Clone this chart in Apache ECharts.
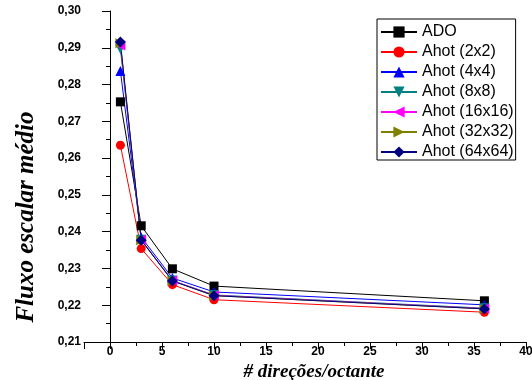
<!DOCTYPE html>
<html>
<head>
<meta charset="utf-8">
<script src="https://cdn.jsdelivr.net/npm/echarts@6/dist/echarts.min.js"></script>
<style>html,body{margin:0;padding:0;background:#fff}#c{width:532px;height:380px}</style>
</head>
<body>
<div id="c"></div>
<script>
var xValues = [1, 3, 6, 10, 36];
var seriesNames = ['ADO', 'Ahot (2x2)', 'Ahot (4x4)', 'Ahot (8x8)', 'Ahot (16x16)', 'Ahot (32x32)', 'Ahot (64x64)'];
var ado    = [0.2753, 0.2416, 0.2299, 0.2252, 0.2212];
var ahot2  = [0.2635, 0.2354, 0.2256, 0.2215, 0.2181];
var ahot4  = [0.2837, 0.2385, 0.2274, 0.2236, 0.2201];
var ahot8  = [0.2897, 0.2378, 0.2267, 0.2228, 0.2192];
var ahot16 = [0.2906, 0.2378, 0.2267, 0.2227, 0.2191];
var ahot32 = [0.2912, 0.2377, 0.2266, 0.2226, 0.2190];
var ahot64 = [0.2916, 0.2377, 0.2266, 0.2226, 0.2190];
var allValues = [ado, ahot2, ahot4, ahot8, ahot16, ahot32, ahot64];

var colors = ['#000000', '#ff0000', '#0000ff', '#008080', '#ff00ff', '#808000', '#000080'];
var symbols = ['rect', 'circle', 'triangle', 'triangle', 'triangle', 'triangle', 'diamond'];
var rotates = [0, 0, 0, 180, 90, -90, 0];
var sizes = [9, 9, 10, 10, 10, 10, 11];

function pairs(vals) { return xValues.map(function (x, i) { return [x, vals[i]]; }); }

var series = allValues.map(function (vals, k) {
  return {
    name: seriesNames[k], type: 'line', xAxisIndex: 0, yAxisIndex: 0,
    data: pairs(vals), symbol: symbols[k], symbolRotate: rotates[k], symbolSize: sizes[k],
    lineStyle: { color: colors[k], width: 1 },
    itemStyle: { color: colors[k] },
    emphasis: { disabled: true }, animation: false
  };
});

var labelFont = { fontFamily: 'Liberation Sans, Arial, sans-serif', fontWeight: 'bold', fontSize: 12, color: '#000' };
var nameFontFamily = 'Liberation Serif, Times New Roman, serif';

var chart = echarts.init(document.getElementById('c'), null, { renderer: 'canvas' });
chart.setOption({
  animation: false,
  grid: { left: 84, right: 6, top: 11, bottom: 38, containLabel: false, outerBoundsMode: 'none' },
  legend: {
    orient: 'vertical', left: 377, top: 19,
    padding: [5, 2, 0, 3], itemGap: 4, itemWidth: 36, itemHeight: 14,
    borderColor: '#000', borderWidth: 1, backgroundColor: '#fff',
    textStyle: { fontFamily: 'Liberation Sans, Arial, sans-serif', fontSize: 16, color: '#000' },
    data: seriesNames
  },
  xAxis: [{
    type: 'value', min: -2.5, max: 40, splitNumber: 8,
    name: '# direções/octante', nameLocation: 'middle', nameGap: 16,
    nameTextStyle: { fontFamily: nameFontFamily, fontWeight: 'bold', fontStyle: 'italic', fontSize: 19, color: '#000', padding: [0, 0, 0, 18] },
    axisLine: { show: true, lineStyle: { color: '#000', width: 1 } },
    axisTick: { show: true, inside: false, length: 7, lineStyle: { color: '#000' } },
    axisLabel: Object.assign({ margin: 4, formatter: function (v) { return (Math.abs(v % 5) < 1e-9) ? String(v) : ''; } }, labelFont),
    splitLine: { show: false }
  }, {
    type: 'value', min: -2.5, max: 40, interval: 2.5, position: 'bottom',
    axisLine: { show: false }, axisLabel: { show: false },
    axisTick: { show: true, length: 4, lineStyle: { color: '#000' } },
    splitLine: { show: false }
  }],
  yAxis: [{
    type: 'value', min: 0.21, max: 0.30, interval: 0.01,
    name: 'Fluxo escalar médio', nameLocation: 'middle', nameGap: 45,
    nameTextStyle: { fontFamily: nameFontFamily, fontWeight: 'bold', fontStyle: 'italic', fontSize: 25, color: '#000', padding: [0, 81, 0, 0] },
    axisLine: { show: true, lineStyle: { color: '#000', width: 1 } },
    axisTick: { show: true, length: 8, lineStyle: { color: '#000' } },
    minorTick: { show: true, splitNumber: 2, length: 4, lineStyle: { color: '#000' } },
    axisLabel: Object.assign({ margin: 3, formatter: function (v) { return v.toFixed(2).replace('.', ','); } }, labelFont),
    splitLine: { show: false }
  }],
  series: series
});
</script>
</body>
</html>
